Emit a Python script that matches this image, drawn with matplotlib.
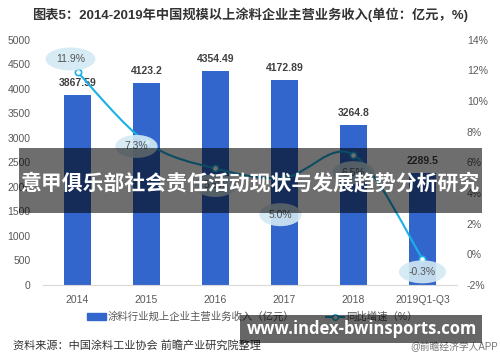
import numpy as np
import matplotlib.pyplot as plt
from matplotlib.patches import Rectangle, Patch
from matplotlib.lines import Line2D
from matplotlib.path import Path
from matplotlib.patches import PathPatch

plt.rcParams['font.family'] = ['Liberation Sans', 'Noto Sans CJK SC', 'DejaVu Sans']

years = ['2014', '2015', '2016', '2017', '2018', '2019Q1-Q3']
revenue = [3867.59, 4123.2, 4354.49, 4172.89, 3264.8, 2289.5]
growth = [11.9, 7.3, 5.6, 5.0, 6.5, -0.3]
revenue_labels = ['3867.59', '4123.2', '4354.49', '4172.89', '3264.8', '2289.5']
growth_labels = ['11.9%', '7.3%', '5.6%', '5.0%', '6.5%', '-0.3%']
label_offsets = [(-7, 13), (-10, -4), (0, -17), (-4, -37), (0, -18), (0, -13)]

bar_color = '#3366cc'
line_color = '#1ab0e6'
tick_color = '#595959'

fig = plt.figure(figsize=(5, 3.62), dpi=100)
ax = fig.add_axes([0.086, 0.213, 0.828, 0.677])
ax2 = ax.twinx()

x = np.arange(len(years))
ax.bar(x, revenue, width=0.4, color=bar_color, zorder=2)
for xi, v, t in zip(x, revenue, revenue_labels):
    ax.annotate(t, (xi, v), xytext=(0, 12), textcoords='offset pixels',
                ha='center', va='center', fontsize=7.5, fontweight='bold',
                color='#404040')

ax.set_xlim(-0.5, 5.5)
ax.set_ylim(0, 5000)
ax.set_yticks(range(0, 5001, 500))
ax.set_xticks(x)
ax.set_xticklabels(years)
ax2.set_ylim(-2, 14)
ax2.set_yticks(range(-2, 15, 2))
ax2.set_yticklabels([f'{v}%' for v in range(-2, 15, 2)])

for a in (ax, ax2):
    for s in a.spines.values():
        s.set_visible(False)
    a.tick_params(length=0, labelsize=7.5, colors=tick_color)
ax.spines['bottom'].set_visible(True)
ax.spines['bottom'].set_color('#d9d9d9')
ax.tick_params(axis='y', pad=9)
ax.tick_params(axis='x', pad=7)
ax2.tick_params(axis='y', pad=7)

# smooth growth line (Catmull-Rom through the data points)
pts = np.column_stack([x, growth])
verts = [pts[0]]
codes = [Path.MOVETO]
for i in range(len(pts) - 1):
    p0 = pts[max(i - 1, 0)]
    p1 = pts[i]
    p2 = pts[i + 1]
    p3 = pts[min(i + 2, len(pts) - 1)]
    verts += [p1 + (p2 - p0) / 6, p2 - (p3 - p1) / 6, p2]
    codes += [Path.CURVE4] * 3
ax2.add_patch(PathPatch(Path(verts, codes), fc='none', ec=line_color, lw=1.5, zorder=3))
ax2.plot(x, growth, 'o', ms=4.5, mfc='white', mec=line_color, mew=1.2, zorder=4)

for xi, v, t, off in zip(x, growth, growth_labels, label_offsets):
    ax2.annotate(t, (xi, v), xytext=off, textcoords='offset pixels',
                 ha='center', va='center', fontsize=7.5, color='#555555',
                 bbox=dict(boxstyle='ellipse,pad=0.3', fc='#d3e9f4', ec='none', alpha=0.9),
                 zorder=5)

fig.text(0.5, 1 - 15 / 362, '图表5：2014-2019年中国规模以上涂料企业主营业务收入(单位：亿元，%)',
         ha='center', va='center', fontsize=9.5, fontweight='bold', color='#333333')

handles = [Patch(color=bar_color),
           Line2D([], [], color=line_color, marker='o', mfc='white', mec=line_color, ms=4)]
fig.legend(handles, ['涂料行业规上企业主营业务收入（亿元）', '同比增速（%）'],
           loc='center', bbox_to_anchor=(0.505, 1 - 317 / 362), ncol=2, frameon=False,
           fontsize=7.5, labelcolor=tick_color, handlelength=1.8, handleheight=0.6,
           columnspacing=3, handletextpad=0.2)

fig.text(0.026, 1 - 345 / 362, '资料来源：中国涂料工业协会 前瞻产业研究院整理',
         ha='left', va='center', fontsize=8, color='#333333')
fig.text(0.996, 1 - 347 / 362, '@前瞻经济学人APP', ha='right', va='center',
         fontsize=7, color='#777777')

# overlay banners
fig.add_artist(Rectangle((0.038, 1 - 213 / 362), 0.926, 65 / 362,
                         transform=fig.transFigure, color='black', alpha=0.57, lw=0, zorder=10))
fig.text(0.5, 1 - 183 / 362, '意甲俱乐部社会责任活动现状与发展趋势分析研究',
         ha='center', va='center', fontsize=15, fontweight='bold', color='white',
         family=['Noto Sans CJK SC'], zorder=11)
fig.add_artist(Rectangle((0.48, 1 - 343 / 362), 0.484, 28 / 362,
                         transform=fig.transFigure, color='black', alpha=0.6, lw=0, zorder=10))
fig.text(0.724, 1 - 329 / 362, 'www.index-bwinsports.com', ha='center', va='center',
         fontsize=12, fontweight='bold', color='white', family=['Open Sans', 'DejaVu Sans'],
         zorder=11)

plt.savefig('out.png', dpi=100)
